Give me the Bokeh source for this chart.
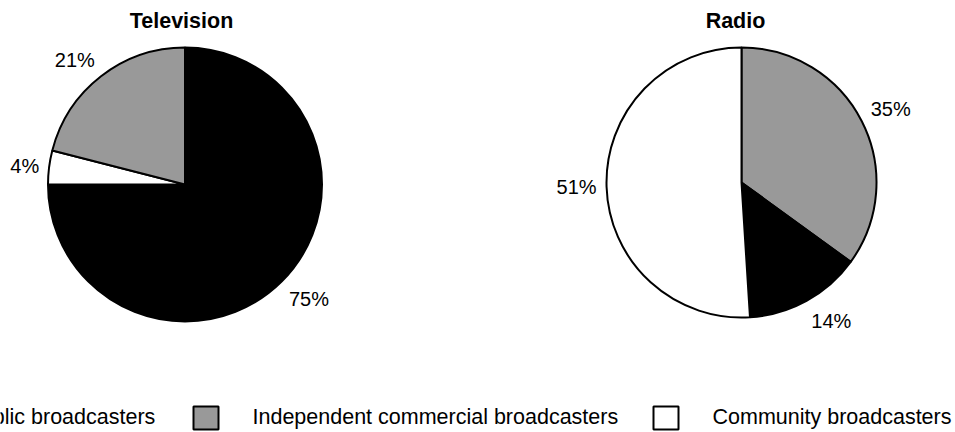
import math
from bokeh.plotting import figure
from bokeh.models import Range1d, ColumnDataSource
from bokeh.core.properties import value
from bokeh.embed import file_html
from bokeh.resources import INLINE

# ---- data ----
categories = ["Public broadcasters", "Independent commercial broadcasters", "Community broadcasters"]
colors = ["#000000", "#999999", "#ffffff"]
tv_values = [75, 21, 4]
radio_values = [14, 35, 51]
# clockwise order from 12 o'clock (indices into categories)
tv_order = [0, 2, 1]
radio_order = [1, 0, 2]
titles = ["Television", "Radio"]

# ---- layout (picture pixel space; y measured from top) ----
W, H = 955, 432
FONT = "Liberation Sans"

def Y(yw):
    return H - yw

p = figure(width=W, height=H, output_backend="svg", toolbar_location=None,
           x_range=Range1d(0, W), y_range=Range1d(0, H),
           min_border=0, min_border_left=0, min_border_right=0,
           min_border_top=0, min_border_bottom=0)
p.axis.visible = False
p.grid.visible = False
p.outline_line_color = None
p.background_fill_color = "white"
p.border_fill_color = "white"

pies = [
    dict(vals=tv_values, order=tv_order, cx=184.5, cy=184, r=137, title=titles[0], tx=181),
    dict(vals=radio_values, order=radio_order, cx=741, cy=182, r=135, title=titles[1], tx=735),
]

for pie in pies:
    vals, order = pie["vals"], pie["order"]
    total = float(sum(vals))
    starts, ends, fills = [], [], []
    acc = 0.0
    for i in order:
        a = acc / total
        b = (acc + vals[i]) / total
        acc += vals[i]
        s_ang = math.pi / 2 - 2 * math.pi * a
        e_ang = math.pi / 2 - 2 * math.pi * b
        starts.append(s_ang)
        ends.append(e_ang)
        fills.append(colors[i])
        mid = (s_ang + e_ang) / 2
        d = pie["r"] + 10
        dx, dy = math.cos(mid), math.sin(mid)
        ax = pie["cx"] + d * dx
        ay = Y(pie["cy"]) + d * dy
        align = "left" if dx > 0.1 else ("right" if dx < -0.1 else "center")
        if dy > 0.3:
            base = "middle"
            ay += 8
        elif dy < -0.3:
            base = "top"
        else:
            base = "middle"
        p.text(x=[ax], y=[ay], text=[f"{vals[i]}%"], text_font=value(FONT),
               text_font_size="20px", text_align=align, text_baseline=base,
               text_color="black")
    src = ColumnDataSource(dict(x=[pie["cx"]] * len(order), y=[Y(pie["cy"])] * len(order),
                                s=starts, e=ends, c=fills))
    p.wedge(x="x", y="y", radius=pie["r"], start_angle="s", end_angle="e",
            direction="clock", fill_color="c", line_color="black", line_width=2,
            source=src)
    p.text(x=[pie["tx"]], y=[Y(20.5)], text=[pie["title"]], text_font=value(FONT),
           text_font_size="21.5px", text_font_style="bold", text_align="center",
           text_baseline="middle", text_color="black")

# ---- legend (manual, first item runs off the left edge as in the reference) ----
leg_sq_left = [-93, 193, 653]
sq_w, sq_h = 25, 23
leg_y_sq = 417.5
leg_y_txt = 416
p.rect(x=[v + sq_w / 2 for v in leg_sq_left], y=[Y(leg_y_sq)] * 3,
       width=sq_w, height=sq_h, width_units="screen", height_units="screen",
       fill_color=colors, line_color="black", line_width=2)
p.text(x=[v + sq_w + 34 for v in leg_sq_left], y=[Y(leg_y_txt)] * 3, text=categories,
       text_font=value(FONT), text_font_size="21.5px", text_align="left",
       text_baseline="middle", text_color="black")

open("out.html", "w").write(file_html(p, INLINE))
